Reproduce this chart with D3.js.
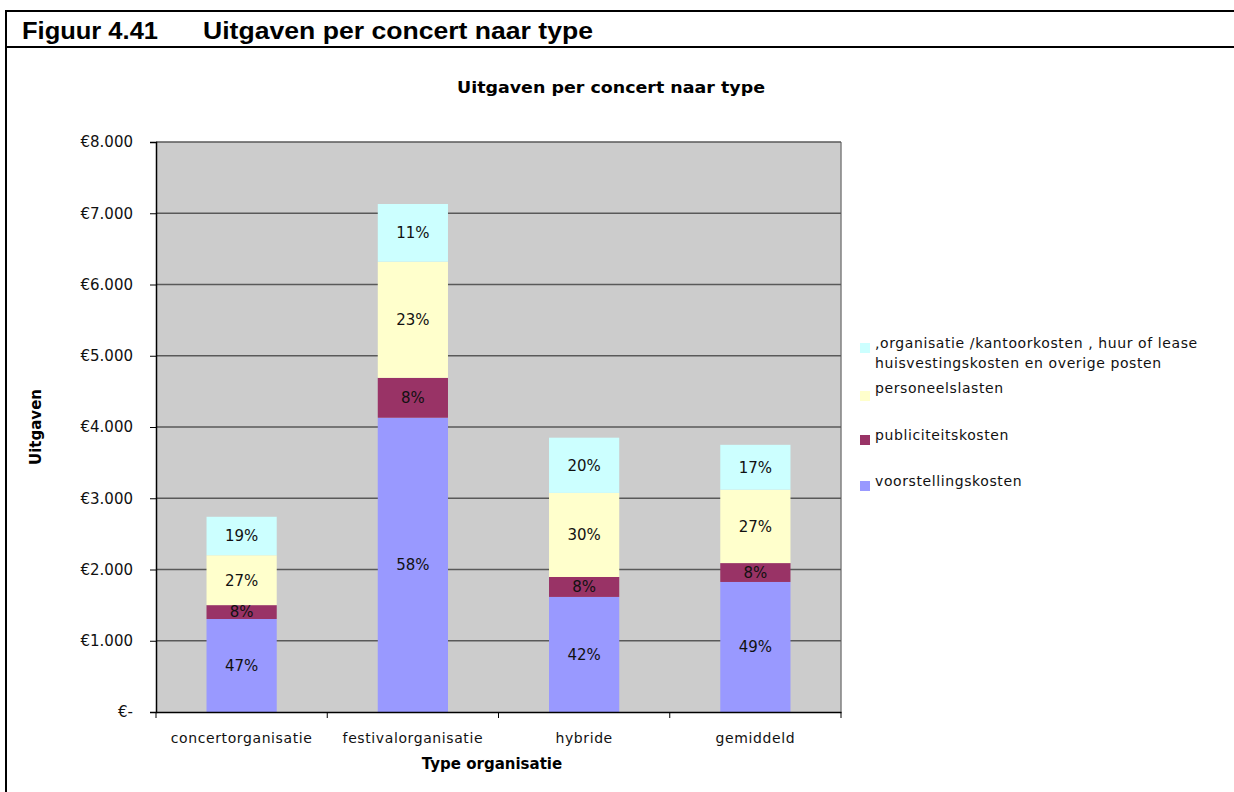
<!DOCTYPE html>
<html>
<head>
<meta charset="utf-8">
<script src="https://cdn.jsdelivr.net/npm/d3@7"></script>
<style>
  body { margin: 0; background: #fff; }
  svg { display: block; }
</style>
</head>
<body>
<div id="chart"></div>
<script>
const categories = ["concertorganisatie", "festivalorganisatie", "hybride", "gemiddeld"];
const seriesKeys = ["voorstellingskosten", "publiciteitskosten", "personeelslasten", "organisatie"];
const legendLabels = {
    voorstellingskosten: ["voorstellingskosten"],
    publiciteitskosten: ["publiciteitskosten"],
    personeelslasten: ["personeelslasten"],
    organisatie: [",organisatie /kantoorkosten , huur of lease", "huisvestingskosten en overige posten"]
};
const voorstelling = [1305, 4130, 1615, 1825];
const publiciteit = [195, 560, 280, 265];
const personeel = [700, 1630, 1180, 1030];
const organisatie = [540, 810, 775, 630];
const pctLabels = [
    ["47%", "8%", "27%", "19%"],
    ["58%", "8%", "23%", "11%"],
    ["42%", "8%", "30%", "20%"],
    ["49%", "8%", "27%", "17%"]
];
const yTicks = [0, 1000, 2000, 3000, 4000, 5000, 6000, 7000, 8000];

const colors = {
    voorstellingskosten: "#9999ff",
    publiciteitskosten: "#993366",
    personeelslasten: "#ffffcc",
    organisatie: "#ccffff"
};

const rows = categories.map((c, i) => ({
    cat: c,
    idx: i,
    voorstellingskosten: voorstelling[i],
    publiciteitskosten: publiciteit[i],
    personeelslasten: personeel[i],
    organisatie: organisatie[i]
}));

const width = 1234, height = 792;
const plot = { left: 156, right: 841, top: 142, bottom: 712 };
const sans = "DejaVu Sans, Verdana, sans-serif";

const svg = d3.select("#chart").append("svg")
    .attr("width", width)
    .attr("height", height);

// figure frame
svg.append("line").attr("x1", 5).attr("x2", width).attr("y1", 11).attr("y2", 11)
    .attr("stroke", "#000").attr("stroke-width", 2);
svg.append("line").attr("x1", 5).attr("x2", width).attr("y1", 47).attr("y2", 47)
    .attr("stroke", "#000").attr("stroke-width", 2);
svg.append("line").attr("x1", 6).attr("x2", 6).attr("y1", 10).attr("y2", height)
    .attr("stroke", "#000").attr("stroke-width", 2);

svg.append("text").attr("x", 22).attr("y", 39)
    .attr("font-family", "Liberation Sans, Arial, sans-serif")
    .attr("font-weight", "bold").attr("font-size", "23px")
    .attr("textLength", 136).attr("lengthAdjust", "spacingAndGlyphs")
    .text("Figuur 4.41");
svg.append("text").attr("x", 203).attr("y", 39)
    .attr("font-family", "Liberation Sans, Arial, sans-serif")
    .attr("font-weight", "bold").attr("font-size", "23px")
    .attr("textLength", 390).attr("lengthAdjust", "spacingAndGlyphs")
    .text("Uitgaven per concert naar type");

const x = d3.scaleBand()
    .domain(categories)
    .range([plot.left, plot.right])
    .paddingInner(0)
    .paddingOuter(0);

const y = d3.scaleLinear()
    .domain([0, 8000])
    .range([plot.bottom, plot.top]);

const barW = x.bandwidth() * 0.41;

// plot background
svg.append("rect")
    .attr("x", plot.left).attr("y", plot.top)
    .attr("width", plot.right - plot.left).attr("height", plot.bottom - plot.top)
    .attr("fill", "#cccccc");
svg.append("line")
    .attr("x1", plot.right).attr("x2", plot.right)
    .attr("y1", plot.top).attr("y2", plot.bottom)
    .attr("stroke", "#808080").attr("stroke-width", 1.5);

// gridlines
svg.append("g").selectAll("line")
    .data(yTicks.filter(d => d > 0))
    .join("line")
    .attr("x1", plot.left).attr("x2", plot.right)
    .attr("y1", d => y(d)).attr("y2", d => y(d))
    .attr("stroke", "#595959").attr("stroke-width", 1.5);

// bars
const stack = d3.stack().keys(seriesKeys)(rows);
const layers = svg.append("g").selectAll("g")
    .data(stack)
    .join("g")
    .attr("fill", d => colors[d.key]);

layers.selectAll("rect")
    .data(d => d)
    .join("rect")
    .attr("x", d => x(d.data.cat) + (x.bandwidth() - barW) / 2)
    .attr("y", d => y(d[1]))
    .attr("width", barW)
    .attr("height", d => y(d[0]) - y(d[1]));

// percentage labels
stack.forEach((layer, si) => {
    svg.append("g").selectAll("text")
        .data(layer)
        .join("text")
        .attr("x", d => x(d.data.cat) + x.bandwidth() / 2)
        .attr("y", d => (y(d[0]) + y(d[1])) / 2)
        .attr("dy", "0.36em")
        .attr("text-anchor", "middle")
        .attr("font-family", sans)
        .attr("font-size", "15px")
        .attr("fill", "#111")
        .text(d => pctLabels[d.data.idx][si]);
});

// y axis
const yAxis = svg.append("g")
    .attr("transform", `translate(${plot.left},0)`)
    .call(d3.axisLeft(y).tickValues(yTicks).tickSize(6).tickPadding(17)
        .tickFormat(d => d === 0 ? "€-" : "€" + d3.format(",")(d).replace(/,/g, ".")));
yAxis.select(".domain").attr("stroke", "#000").attr("stroke-width", 1.5);
yAxis.selectAll(".tick line").attr("stroke", "#000");
yAxis.selectAll("text")
    .attr("font-family", sans)
    .attr("font-size", "15px").attr("fill", "#111");

// x axis
const xAxis = svg.append("g")
    .attr("transform", `translate(0,${plot.bottom})`)
    .call(d3.axisBottom(x).tickSize(0).tickPadding(21));
xAxis.select(".domain").attr("stroke", "#000").attr("stroke-width", 1.5);
xAxis.selectAll("text")
    .attr("font-family", sans)
    .attr("font-size", "14px").attr("fill", "#111")
    .attr("letter-spacing", "0.6px");
const bounds = categories.map(c => x(c)).concat([plot.right]);
svg.append("g").selectAll("line")
    .data(bounds)
    .join("line")
    .attr("x1", d => d).attr("x2", d => d)
    .attr("y1", plot.bottom).attr("y2", plot.bottom + 6)
    .attr("stroke", "#000");

// titles
svg.append("text")
    .attr("x", 611).attr("y", 93)
    .attr("text-anchor", "middle")
    .attr("font-family", "DejaVu Sans, Tahoma, sans-serif")
    .attr("font-weight", "bold").attr("font-size", "16px")
    .attr("textLength", 308).attr("lengthAdjust", "spacingAndGlyphs")
    .text("Uitgaven per concert naar type");

svg.append("text")
    .attr("x", 492).attr("y", 769)
    .attr("text-anchor", "middle")
    .attr("font-family", "DejaVu Sans, Tahoma, sans-serif")
    .attr("font-weight", "bold").attr("font-size", "15px")
    .text("Type organisatie");

svg.append("text")
    .attr("transform", `translate(41,${(plot.top + plot.bottom) / 2}) rotate(-90)`)
    .attr("text-anchor", "middle")
    .attr("font-family", "DejaVu Sans, Tahoma, sans-serif")
    .attr("font-weight", "bold").attr("font-size", "15px")
    .text("Uitgaven");

// legend (reverse order, top = last series)
const legendY = { organisatie: 348, personeelslasten: 393, publiciteitskosten: 440, voorstellingskosten: 486 };
const legend = svg.append("g");
seriesKeys.slice().reverse().forEach(k => {
    const yy = legendY[k];
    legend.append("rect")
        .attr("x", 860).attr("y", yy - 5 + (k === "personeelslasten" ? 3 : 0))
        .attr("width", 10).attr("height", 10)
        .attr("fill", colors[k]);
    legend.append("text")
        .attr("x", 875).attr("y", yy)
        .attr("dy", "0.36em")
        .attr("font-family", sans)
        .attr("font-size", "14px").attr("fill", "#111")
        .attr("letter-spacing", "0.6px")
        .selectAll("tspan")
        .data(legendLabels[k])
        .join("tspan")
        .attr("x", 875)
        .attr("dy", (d, i) => i === 0 ? 0 : 20)
        .text(d => d);
});
</script>
</body>
</html>
